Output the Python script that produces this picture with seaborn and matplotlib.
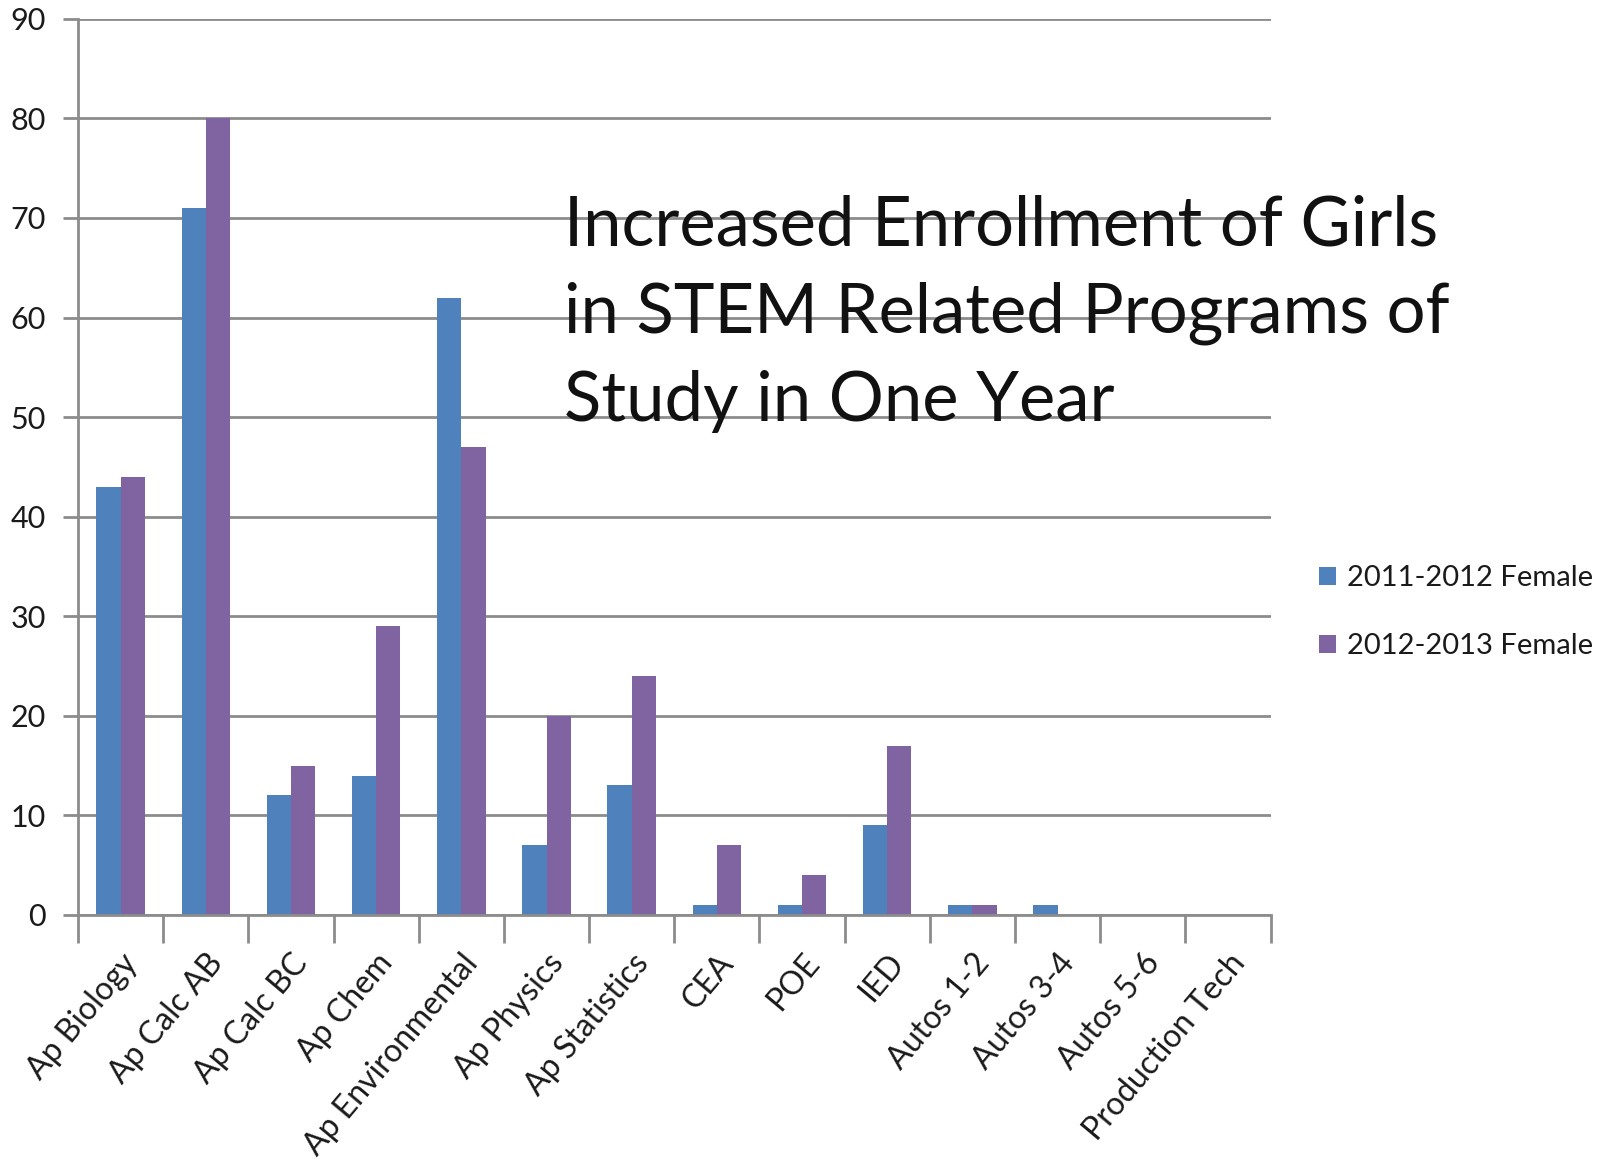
import matplotlib
matplotlib.use("Agg")
import matplotlib.pyplot as plt
import seaborn as sns
import pandas as pd

categories = ["Ap Biology", "Ap Calc AB", "Ap Calc BC", "Ap Chem", "Ap Environmental",
              "Ap Physics", "Ap Statistics", "CEA", "POE", "IED", "Autos 1-2",
              "Autos 3-4", "Autos 5-6", "Production Tech"]
female_2011_2012 = [43, 71, 12, 14, 62, 7, 13, 1, 1, 9, 1, 1, 0, 0]
female_2012_2013 = [44, 80, 15, 29, 47, 20, 24, 7, 4, 17, 1, 0, 0, 0]
series_names = ["2011-2012 Female", "2012-2013 Female"]
title_text = "Increased Enrollment of Girls\nin STEM Related Programs of\nStudy in One Year"

df = pd.DataFrame({
    "Program": categories * 2,
    "Students": female_2011_2012 + female_2012_2013,
    "Year": [series_names[0]] * len(categories) + [series_names[1]] * len(categories),
})

sns.set_theme(style="white")
plt.rcParams["font.family"] = ["Lato", "DejaVu Sans"]

grid_color = "#8c8c8c"
fig = plt.figure(figsize=(16.06, 11.76), dpi=100)
ax = fig.add_axes([0.0486, 0.222, 0.7425, 0.762])

sns.barplot(data=df, x="Program", y="Students", hue="Year", order=categories,
            hue_order=series_names, palette=["#4f81bd", "#8064a2"],
            width=0.57, saturation=1, ax=ax, legend=True, edgecolor="none")

ax.set_xlim(-0.5, len(categories) - 0.5)
ax.set_ylim(0, 90)
ax.set_yticks(range(0, 91, 10))
ax.set_xlabel("")
ax.set_ylabel("")
ax.yaxis.grid(True, color=grid_color, linewidth=2)
ax.set_axisbelow(True)

for side in ["top", "right"]:
    ax.spines[side].set_visible(False)
for side in ["left", "bottom"]:
    ax.spines[side].set_color(grid_color)
    ax.spines[side].set_linewidth(2)

# y ticks: short gray stubs continuing the gridlines to the left
ax.tick_params(axis="y", which="major", left=True, length=11, width=2, color=grid_color,
               labelsize=22, labelcolor="#1a1a1a", pad=12)

# x ticks sit on category boundaries; labels sit at category centres
ax.set_xticks([i - 0.5 for i in range(len(categories) + 1)], minor=True)
ax.tick_params(axis="x", which="minor", bottom=True, length=20, width=2, color=grid_color)
ax.tick_params(axis="x", which="major", bottom=False, labelsize=23, labelcolor="#1a1a1a", pad=18)
ax.set_xticks(range(len(categories)))
ax.set_xticklabels(categories, rotation=50, ha="right", rotation_mode="anchor")

handles, labels = ax.get_legend_handles_labels()
ax.legend(handles, labels, loc="center left", bbox_to_anchor=(1.019, 0.338), frameon=False,
          fontsize=21, handlelength=0.58, handleheight=0.58, handletextpad=0.35,
          labelspacing=1.45, labelcolor="#1a1a1a")

fig.text(0.351, 0.835, title_text, fontsize=49.5, color="#111111", va="top", ha="left",
         linespacing=1.48)

fig.savefig("out.png", dpi=100, facecolor="white")
